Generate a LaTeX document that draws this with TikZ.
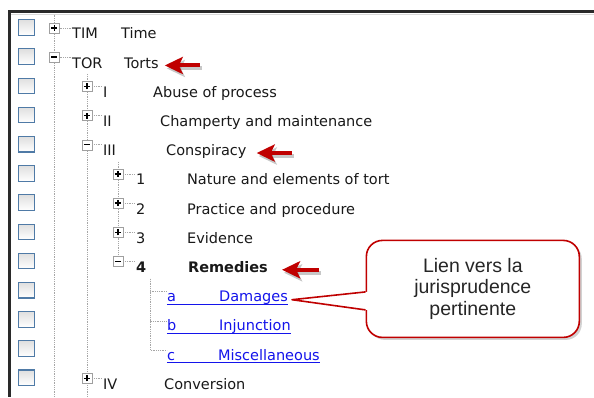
\documentclass[tikz,border=0pt]{standalone}
\usepackage{fontspec}
\setmainfont{DejaVu Sans}
\newfontfamily\notefont{Liberation Sans}
\usetikzlibrary{arrows.meta,shadows}

\definecolor{boxblue}{RGB}{79,122,166}
\definecolor{linkblue}{RGB}{20,20,235}
\definecolor{darkred}{RGB}{192,0,0}
\definecolor{barcol}{RGB}{42,42,42}

\begin{document}
\begin{tikzpicture}[x=1pt,y=-1pt]
		\tikzstyle{chk}=[draw=boxblue, line width=1.1pt, top color=gray!25, bottom color=white, minimum width=16pt, minimum height=15.5pt, inner sep=0pt]
		\tikzstyle{exp}=[draw=gray!75, fill=white, minimum size=10pt, inner sep=0pt]
		\tikzstyle{minus}=[exp, path picture={\draw[black, line width=1.4pt] ([xshift=-3pt]path picture bounding box.center) -- ([xshift=3pt]path picture bounding box.center);}]
		\tikzstyle{plus}=[exp, path picture={\draw[black, line width=1.4pt] ([xshift=-3pt]path picture bounding box.center) -- ([xshift=3pt]path picture bounding box.center) ([yshift=-3pt]path picture bounding box.center) -- ([yshift=3pt]path picture bounding box.center);}]
		\tikzstyle{item}=[anchor=base west, inner sep=0pt, font=\fontsize{14.5}{17}\selectfont, text=black!90]
		\tikzstyle{link}=[item, text=linkblue]
		\tikzstyle{dots}=[densely dotted, gray!70, line width=0.8pt]
		\tikzstyle{hint}=[line width=4pt, darkred, -{Stealth[length=18pt,width=17pt,inset=4pt]}]
		\tikzstyle{hintshade}=[hint, black, opacity=.22, transform canvas={shift={(2pt,-3pt)}}]
		\tikzstyle{note}=[draw=darkred, line width=1.6pt, fill=white, rounded corners=16pt, minimum width=213pt, minimum height=97pt, align=center, text=black!85, font=\notefont\fontsize{19.5}{21.5}\selectfont, drop shadow={opacity=.35, shadow xshift=2.5pt, shadow yshift=-2.5pt}]

		% frame
		\fill[white] (0,0) rectangle (594,397);
		\fill[barcol] (8,10) rectangle (594,13.2);
		\draw[gray!30] (8,14) -- (594,14);
		\fill[barcol] (8,10) rectangle (11.3,397);

		% check boxes
		\node[chk] (c0) at (26.5,27.5) {};
		\node[chk] (c1) at (26.5,56.7) {};
		\node[chk] (c2) at (26.5,85.9) {};
		\node[chk] (c3) at (26.5,115.1) {};
		\node[chk] (c4) at (26.5,144.3) {};
		\node[chk] (c5) at (26.5,173.5) {};
		\node[chk] (c6) at (26.5,202.7) {};
		\node[chk] (c7) at (26.5,231.9) {};
		\node[chk] (c8) at (26.5,261.1) {};
		\node[chk] (c9) at (26.5,290.3) {};
		\node[chk] (c10) at (26.5,319.5) {};
		\node[chk] (c11) at (26.5,348.7) {};
		\node[chk] (c12) at (26.5,377.9) {};

		% entries
		\node[item] (tim) at (72,39) {TIM};
		\node[item] (time) at (121,39) {Time};
		\node[item] (tor) at (72,68.2) {TOR};
		\node[item] (torts) at (124,68.2) {Torts};
		\node[item] (i) at (103,97.4) {I};
		\node[item] (abuse) at (153,97.4) {Abuse of process};
		\node[item] (ii) at (103,126.6) {II};
		\node[item] (champ) at (160,126.6) {Champerty and maintenance};
		\node[item] (iii) at (103,155.8) {III};
		\node[item] (consp) at (166,155.8) {Conspiracy};
		\node[item] (n1) at (136,185) {1};
		\node[item] (nature) at (187,185) {Nature and elements of tort};
		\node[item] (n2) at (136,214.2) {2};
		\node[item] (pract) at (187,214.2) {Practice and procedure};
		\node[item] (n3) at (136,243.4) {3};
		\node[item] (evid) at (187,243.4) {Evidence};
		\node[item] (n4) at (136,272.6) {\bfseries 4};
		\node[item] (rem) at (188,272.6) {\bfseries Remedies};
		\node[link] (la) at (167,301.8) {a};
		\node[link] (dam) at (219,301.8) {Damages};
		\node[link] (lb) at (167,331) {b};
		\node[link] (inj) at (219,331) {Injunction};
		\node[link] (lc) at (167,360.2) {c};
		\node[link] (misc) at (218,360.2) {Miscellaneous};
		\node[item] (iv) at (103,389.4) {IV};
		\node[item] (conv) at (164,389.4) {Conversion};

		% tree lines
		\coordinate (top0) at (54.5,14.5);
		\coordinate (bot0) at (54.5,397);
		\coordinate (top1) at (87,74);
		\coordinate (bot1) at (87,397);
		\coordinate (top2) at (118,162);
		\coordinate (top3) at (150,279);
		\draw[dots] (top0) -- (bot0);
		\draw[dots] (top1) -- (bot1);
		\draw[dots] (top2) -- (top2 |- n4.north);
		\draw[dots] (top3) |- ([yshift=10pt]la.base west);
		\draw[dots] (top3) |- ([yshift=10pt]lb.base west);
		\draw[dots] (top3) |- ([yshift=10pt]lc.base west);

		% expanders
		\node[plus] (etim) at (54.5,28) {};
		\node[minus] (etor) at (54.5,57.2) {};
		\node[plus] (ei) at (87,86.4) {};
		\node[plus] (eii) at (87,115.6) {};
		\node[minus] (eiii) at (87,144.8) {};
		\node[plus] (e1) at (118,174) {};
		\node[plus] (e2) at (118,203.2) {};
		\node[plus] (e3) at (118,232.4) {};
		\node[minus] (e4) at (118,261.6) {};
		\node[plus] (eiv) at (87,378.4) {};

		\draw[dots] (etim.east) -- ([xshift=-1pt]etim.east -| tim.west);
		\draw[dots] (etor.east) -- ([xshift=-1pt]etor.east -| tor.west);
		\draw[dots] (ei.east) -- ([xshift=-1pt]ei.east -| i.west);
		\draw[dots] (eii.east) -- ([xshift=-1pt]eii.east -| ii.west);
		\draw[dots] (eiii.east) -- ([xshift=-1pt]eiii.east -| iii.west);
		\draw[dots] (e1.east) -- ([xshift=-1pt]e1.east -| n1.west);
		\draw[dots] (e2.east) -- ([xshift=-1pt]e2.east -| n2.west);
		\draw[dots] (e3.east) -- ([xshift=-1pt]e3.east -| n3.west);
		\draw[dots] (e4.east) -- ([xshift=-1pt]e4.east -| n4.west);
		\draw[dots] (eiv.east) -- ([xshift=-1pt]eiv.east -| iv.west);

		% links underlined
		\draw[linkblue, line width=0.8pt] ([yshift=-2.5pt]la.base west) -- ([yshift=-2.5pt]dam.base east);
		\draw[linkblue, line width=0.8pt] ([yshift=-2.5pt]lb.base west) -- ([yshift=-2.5pt]inj.base east);
		\draw[linkblue, line width=0.8pt] ([yshift=-2.5pt]lc.base west) -- ([yshift=-2.5pt]misc.base east);

		% red arrows
		\draw[hintshade] ([xshift=41pt]torts.mid east) -- ([xshift=6pt]torts.mid east);
		\draw[hint] ([xshift=41pt]torts.mid east) -- ([xshift=6pt]torts.mid east);
		\draw[hintshade] ([xshift=45pt]consp.mid east) -- ([xshift=10pt]consp.mid east);
		\draw[hint] ([xshift=45pt]consp.mid east) -- ([xshift=10pt]consp.mid east);
		\draw[hintshade] ([xshift=51pt]rem.mid east) -- ([xshift=14pt]rem.mid east);
		\draw[hint] ([xshift=51pt]rem.mid east) -- ([xshift=14pt]rem.mid east);

		% callout
		\node[note] (note) at (473,289) {Lien vers la\\jurisprudence\\pertinente};
		\coordinate (tip) at ([xshift=4pt,yshift=2pt]dam.base east);
		\fill[white] (tip) -- ([yshift=-3pt]note.west) -- ([xshift=3pt,yshift=-3pt]note.west) -- ([xshift=3pt,yshift=-21pt]note.west) -- ([yshift=-21pt]note.west) -- cycle;
		\draw[darkred, line width=1.6pt, line join=round] ([yshift=-3pt]note.west) -- (tip) -- ([yshift=-21pt]note.west);
	\end{tikzpicture}
\end{document}
